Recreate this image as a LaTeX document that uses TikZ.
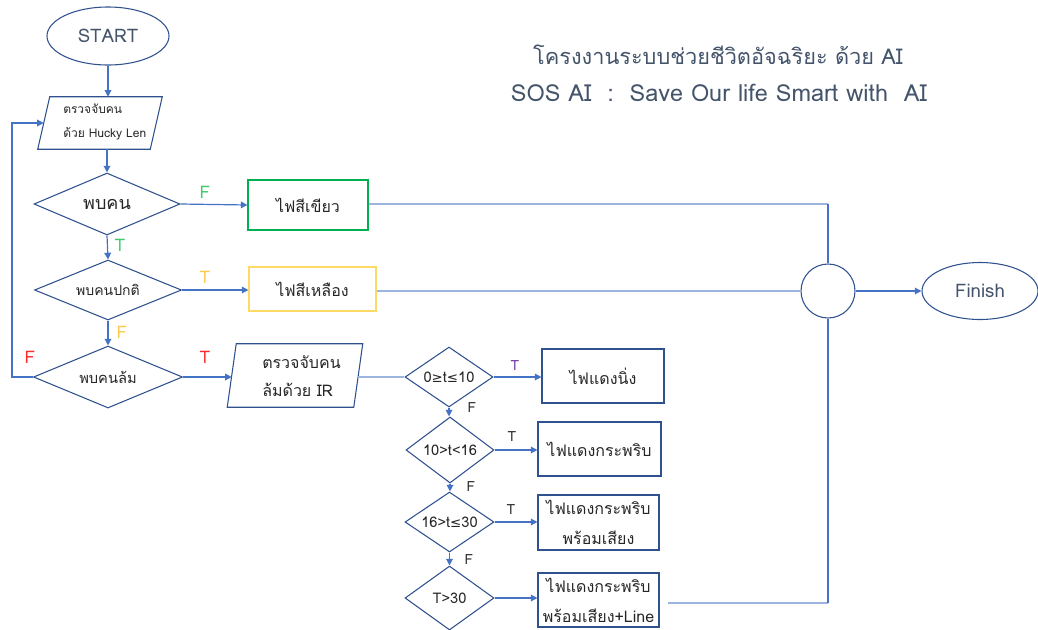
\documentclass[tikz,border=0pt]{standalone}
\usepackage{fontspec}
\setmainfont[Script=Thai]{Loma}
\newfontfamily\symf{DejaVu Sans}
\usetikzlibrary{shapes.geometric,arrows.meta,calc}
\definecolor{lnblue}{HTML}{4472C4}
\definecolor{ltblue}{HTML}{9DB4E0}
\definecolor{bdblue}{HTML}{2F528F}
\definecolor{gbox}{HTML}{00B050}
\definecolor{ybox}{HTML}{FFD966}
\definecolor{glab}{HTML}{3DCB6C}
\definecolor{ylab}{HTML}{FFC94D}
\definecolor{rlab}{HTML}{FF2A2A}
\definecolor{plab}{HTML}{7030A0}
\definecolor{txt}{HTML}{262626}
\definecolor{ttl}{HTML}{44546A}
\newcommand{\fs}[2]{\fontsize{#1}{#2}\selectfont}
\begin{document}
\begin{tikzpicture}[x=0.75pt,y=-0.75pt,
  every node/.style={text=txt},
  term/.style={ellipse,draw=bdblue,line width=0.8pt,inner sep=0pt},
  dec/.style={diamond,draw=bdblue,line width=0.8pt,inner sep=0pt,aspect=2},
  boxn/.style={rectangle,draw=bdblue,line width=0.8pt,inner sep=0pt,align=center},
  para/.style={rectangle,inner sep=0pt},
  pshape/.style={draw=bdblue,line width=0.8pt},
  flow/.style={draw=lnblue,line width=0.9pt,-{Triangle[length=5pt,width=5pt]}},
  plain/.style={draw=lnblue,line width=0.9pt},
  light/.style={draw=ltblue,line width=0.9pt},
  lab/.style={inner sep=0pt,font=\fs{13}{15}},
  slab/.style={inner sep=0pt,font=\fs{10.5}{12},text=txt}
]
\useasboundingbox (0,0) rectangle (1038,629);

% title
\node[text=ttl,font=\fs{16.3}{20}] (t1line) at (718,55) {โครงงานระบบช่วยชีวิตอัจฉริยะ ด้วย AI};
\node[text=ttl,font=\fs{17.6}{20}] (t2line) at (719,93) {SOS AI \ : \ Save Our life Smart with \ AI};

% start
\node[term,minimum width=122*0.75pt,minimum height=58*0.75pt,font=\fs{14}{16},text=ttl] (start) at (108,36) {START};

% input 1
\node[para,minimum width=112*0.75pt,minimum height=52*0.75pt] (in1) at (100,123) {};
\draw[pshape] ($(in1.north west)+(6,0)$) -- ($(in1.north east)+(6,0)$) -- ($(in1.south east)+(-6,0)$) -- ($(in1.south west)+(-6,0)$) -- cycle;
\node[anchor=west,inner sep=0pt,align=left,font=\fs{9}{18}] (in1t) at (63,122) {ตรวจจับคน\\ด้วย Hucky Len};

% decisions
\node[dec,minimum width=146*0.75pt,minimum height=62*0.75pt,font=\fs{13.5}{16}] (d1) at (107,204) {พบคน};
\node[dec,minimum width=147*0.75pt,minimum height=60*0.75pt,font=\fs{10.5}{12}] (d2) at (108,290) {พบคนปกติ};
\node[dec,minimum width=149*0.75pt,minimum height=62*0.75pt,font=\fs{11}{13}] (d3) at (108,377) {พบคนล้ม};

% colour boxes
\node[boxn,draw=gbox,minimum width=120*0.75pt,minimum height=50*0.75pt,font=\fs{12}{14}] (gb) at (308,205) {ไฟสีเขียว};
\node[boxn,draw=ybox,minimum width=127*0.75pt,minimum height=44*0.75pt,font=\fs{12}{14}] (yb) at (312.5,289) {ไฟสีเหลือง};

% input 2
\node[para,minimum width=126*0.75pt,minimum height=63*0.75pt] (in2) at (295,375.5) {};
\draw[pshape] ($(in2.north west)+(4.5,0)$) -- ($(in2.north east)+(4.5,0)$) -- ($(in2.south east)+(-4.5,0)$) -- ($(in2.south west)+(-4.5,0)$) -- cycle;
\node[anchor=west,inner sep=0pt,align=left,font=\fs{12}{21}] (in2t) at (262,376) {ตรวจจับคน\\ล้มด้วย IR};

% time decisions
\node[dec,minimum width=88*0.75pt,minimum height=60*0.75pt,font=\fs{11}{13}] (c1) at (449,377) {0{\symf\fs{10}{12}≥}t{\symf\fs{10}{12}≤}10};
\node[dec,minimum width=88*0.75pt,minimum height=66*0.75pt,font=\fs{11}{13}] (c2) at (450,450) {10>t<16};
\node[dec,minimum width=89*0.75pt,minimum height=60*0.75pt,font=\fs{11}{13}] (c3) at (449.5,522) {16>t{\symf\fs{10}{12}≤}30};
\node[dec,minimum width=89*0.75pt,minimum height=64*0.75pt,font=\fs{11}{13}] (c4) at (449.5,598) {T>30};

% red boxes
\node[boxn,minimum width=122*0.75pt,minimum height=54*0.75pt,font=\fs{12}{14}] (r1) at (603,376) {ไฟแดงนิ่ง};
\node[boxn,minimum width=123*0.75pt,minimum height=54*0.75pt,font=\fs{12}{14}] (r2) at (599.5,449) {ไฟแดงกระพริบ};
\node[boxn,minimum width=121*0.75pt,minimum height=55*0.75pt,font=\fs{12}{22.5}] (r3) at (598.5,522.5) {ไฟแดงกระพริบ\\พร้อมเสียง};
\node[boxn,minimum width=121*0.75pt,minimum height=54*0.75pt,font=\fs{12}{22.5}] (r4) at (598.5,600) {ไฟแดงกระพริบ\\พร้อมเสียง+Line};

% join and finish
\node[circle,draw=bdblue,line width=0.8pt,minimum size=54*0.75pt,inner sep=0pt] (jn) at (828,291) {};
\node[term,minimum width=116*0.75pt,minimum height=57*0.75pt,font=\fs{14}{16},text=ttl] (fin) at (980,291) {Finish};

\coordinate (loopL) at (12,377);
\coordinate (r4out) at (668,603);
\coordinate (gcorner) at (828,204);

% connectors
\draw[flow] (start.south) -- (start.south |- in1.north);
\draw[flow] (in1.south -| d1.north) -- (d1.north);
\draw[flow] (d1.east) -- (gb.west);
\draw[flow] (d1.south) -- (d2.north);
\draw[flow] (d2.east) -- (d2.east -| yb.west);
\draw[flow] (d2.south) -- (d3.north);
\draw[flow] (d3.west) -- (loopL) |- (in1.west);
\draw[flow] (d3.east) -- (d3.east -| in2.west);
\draw[light] (in2.east |- c1.west) -- (c1.west);
\draw[flow] (c1.east) -- (c1.east -| r1.west);
\draw[flow] (c1.south) -- (c1.south |- c2.north);
\draw[flow] (c2.east) -- (c2.east -| r2.west);
\draw[flow] (c2.south) -- (c2.south |- c3.north);
\draw[flow] (c3.east) -- (c3.east -| r3.west);
\draw[flow] (c3.south) -- (c3.south |- c4.north);
\draw[flow] (c4.east) -- (c4.east -| r4.west);
\draw[light] (gb.east |- gcorner) -- (gcorner);
\draw[plain] (gcorner) -- (jn.north);
\draw[light] (yb.east |- jn.west) -- (jn.west);
\draw[light] (r4out) -- (r4out -| jn.south);
\draw[plain] (r4out -| jn.south) -- (jn.south);
\draw[flow] (jn.east) -- (fin.west);

% labels
\node[lab,text=glab] (lf1) at (205,192) {F};
\node[lab,text=glab] (lt1) at (120,245) {T};
\node[lab,text=ylab] (lt2) at (205,277) {T};
\node[lab,text=ylab] (lf2) at (122,332) {F};
\node[lab,text=rlab] (lf3) at (30,357) {F};
\node[lab,text=rlab] (lt3) at (205,357) {T};
\node[slab,text=plab] (lt4) at (515,366) {T};
\node[slab] (lf4) at (472,408) {F};
\node[slab] (lt5) at (512,437) {T};
\node[slab] (lf5) at (471,487) {F};
\node[slab] (lt6) at (511,510) {T};
\node[slab] (lf6) at (469,560) {F};
\end{tikzpicture}
\end{document}
